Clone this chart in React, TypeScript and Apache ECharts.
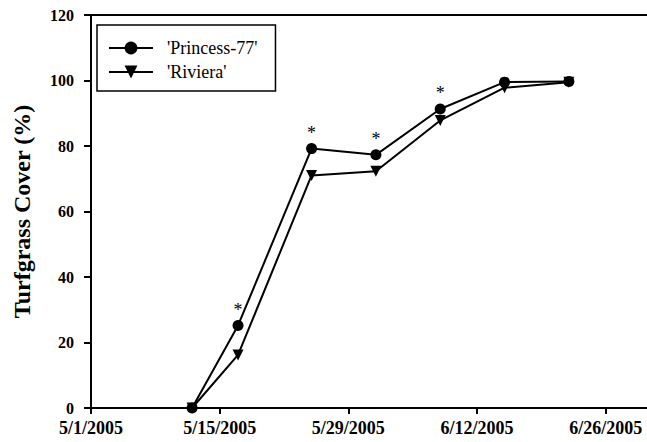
import React, { useEffect, useRef } from "react";
import * as echarts from "echarts";

// ---- data ----
const sampleDates = ["5/12/2005", "5/17/2005", "5/25/2005", "6/1/2005", "6/8/2005", "6/15/2005", "6/22/2005"];
const princess77 = [0, 25.2, 79.2, 77.3, 91.3, 99.5, 99.7];
const riviera = [0, 16.2, 71.0, 72.3, 87.8, 97.8, 99.5];
const significant = [false, true, true, true, true, false, false];
const xTickDates = ["5/1/2005", "5/15/2005", "5/29/2005", "6/12/2005", "6/26/2005"];
const axisStartDate = "5/1/2005";
const axisEndDays = 60.5;
const seriesNames = ["'Princess-77'", "'Riviera'"];

const DAY = 86400000;
function parseDate(s: string): number {
  const [m, d, y] = s.split("/").map(Number);
  return Date.UTC(y, m - 1, d);
}
const base = parseDate(axisStartDate);
const toDay = (s: string) => Math.round((parseDate(s) - base) / DAY);
const fmtDay = (v: number) => {
  const dt = new Date(base + Math.round(v) * DAY);
  return `${dt.getUTCMonth() + 1}/${dt.getUTCDate()}/${dt.getUTCFullYear()}`;
};

const FONT = "'Liberation Serif', 'Times New Roman', serif";

export default function App() {
  const ref = useRef<HTMLDivElement>(null);
  useEffect(() => {
    document.body.style.margin = "0";
    if (!ref.current) return;
    const chart = echarts.init(ref.current, undefined, { renderer: "svg" });
    const xDays = sampleDates.map(toDay);
    const tickDays = xTickDates.map(toDay);
    chart.setOption({
      animation: false,
      backgroundColor: "#ffffff",
      grid: { left: 91, top: 15, right: 0, bottom: 34, containLabel: false },
      legend: {
        data: seriesNames,
        orient: "vertical",
        left: 97,
        top: 25,
        itemWidth: 44,
        itemHeight: 16,
        itemGap: 6,
        padding: [14, 18, 10, 11],
        borderColor: "#000",
        borderWidth: 1.5,
        textStyle: { fontFamily: FONT, fontSize: 18, color: "#000", padding: [0, 0, 0, 9] },
      },
      xAxis: [
        {
          type: "value",
          min: 0,
          max: axisEndDays,
          interval: 14,
          splitLine: { show: false },
          axisLine: { show: true, lineStyle: { color: "#000", width: 2 } },
          axisTick: { show: true, customValues: tickDays, length: 6, lineStyle: { color: "#000", width: 2 } },
          axisLabel: {
            customValues: tickDays,
            formatter: (v: number) => fmtDay(v),
            fontFamily: FONT,
            fontWeight: "bold",
            fontSize: 18,
            color: "#000",
            margin: 11,
          },
        },
        {
          type: "value",
          position: "top",
          min: 0,
          max: axisEndDays,
          splitLine: { show: false },
          axisLine: { show: true, lineStyle: { color: "#000", width: 2 } },
          axisTick: { show: false },
          axisLabel: { show: false },
        },
      ],
      yAxis: {
        type: "value",
        min: 0,
        max: 120,
        interval: 20,
        name: "Turfgrass Cover (%)",
        nameLocation: "middle",
        nameGap: 57,
        nameTextStyle: { fontFamily: FONT, fontWeight: "bold", fontSize: 24, color: "#000" },
        splitLine: { show: false },
        axisLine: { show: true, lineStyle: { color: "#000", width: 2 } },
        axisTick: { show: true, length: 7, lineStyle: { color: "#000", width: 2 } },
        axisLabel: { fontFamily: FONT, fontWeight: "bold", fontSize: 16, color: "#000", margin: 17 },
      },
      series: [
        {
          name: seriesNames[1],
          type: "line",
          data: xDays.map((d, i) => [d, riviera[i]]),
          symbol: "triangle",
          symbolRotate: 180,
          symbolSize: 11,
          lineStyle: { color: "#000", width: 2 },
          itemStyle: { color: "#000" },
          z: 2,
        },
        {
          name: seriesNames[0],
          type: "line",
          data: xDays.map((d, i) => ({
            value: [d, princess77[i]],
            label: significant[i]
              ? { show: true, formatter: "*", position: "top", distance: 1, fontFamily: FONT, fontSize: 18, color: "#000" }
              : { show: false },
          })),
          symbol: "circle",
          symbolSize: 11,
          lineStyle: { color: "#000", width: 2 },
          itemStyle: { color: "#000" },
          z: 3,
        },
      ],
    });
    return () => chart.dispose();
  }, []);
  return <div ref={ref} style={{ width: 647, height: 442 }} />;
}
